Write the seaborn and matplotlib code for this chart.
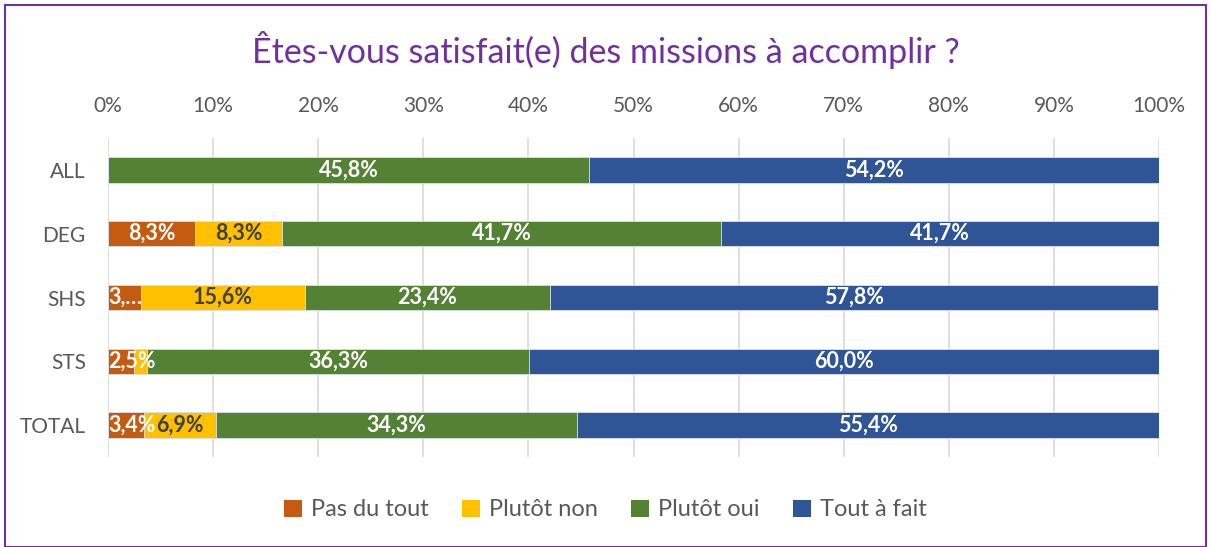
import numpy as np
import pandas as pd
import matplotlib.pyplot as plt
import seaborn as sns
from matplotlib.patches import Rectangle, Patch

categories = ["ALL", "DEG", "SHS", "STS", "TOTAL"]
series_names = ["Pas du tout", "Plutôt non", "Plutôt oui", "Tout à fait"]
pas_du_tout = [0.0, 8.3, 3.1, 2.5, 3.4]
plutot_non = [0.0, 8.3, 15.6, 1.25, 6.9]
plutot_oui = [45.8, 41.7, 23.4, 36.3, 34.3]
tout_a_fait = [54.2, 41.7, 57.8, 60.0, 55.4]
tick_labels = ["0%", "10%", "20%", "30%", "40%", "50%", "60%", "70%", "80%", "90%", "100%"]

colors = ["#C55A11", "#FFC000", "#548235", "#2F5597"]
label_colors = ["white", "#404040", "white", "white"]

df = pd.DataFrame({"cat": categories, series_names[0]: pas_du_tout, series_names[1]: plutot_non,
                   series_names[2]: plutot_oui, series_names[3]: tout_a_fait})
vals = df[series_names].to_numpy()
cum = np.cumsum(vals, axis=1)

sns.set_style("white")
plt.rcParams["font.family"] = ["Lato", "DejaVu Sans"]

fig = plt.figure(figsize=(12.11, 5.47), dpi=100)
ax = fig.add_axes([108 / 1211, 1 - 457 / 547, 1051 / 1211, 319 / 547])

# stacked bars: draw cumulative totals from the top layer down
for j in range(3, -1, -1):
    sns.barplot(x=cum[:, j], y=df["cat"], orient="h", color=colors[j], width=0.4,
                saturation=1, edgecolor="#DCE3EF", linewidth=0.6, ax=ax, zorder=3)

# data labels
for i, cat in enumerate(categories):
    left = 0
    for j in range(4):
        v = vals[i, j]
        if v >= 2:
            txt = f"{v:.1f}%".replace(".", ",")
            if cat == "SHS" and j == 0:
                txt = "3,…"
            if j == 0 and v < 5:
                # narrow first segment: Excel keeps the label inside the plot
                ax.text(0.05, i, txt, ha="left", va="center", color=label_colors[j],
                        fontsize=15.5, fontweight="bold", zorder=5)
            else:
                ax.text(left + v / 2, i, txt, ha="center", va="center", color=label_colors[j],
                        fontsize=15.5, fontweight="bold", zorder=5)
        left += v

ax.set_xlim(0, 100)
ax.set_ylim(4.5, -0.5)
ax.set_xticks(np.arange(0, 101, 10))
ax.set_xticklabels(tick_labels)
ax.xaxis.tick_top()
ax.tick_params(axis="x", length=0, pad=16, labelsize=15, labelcolor="#595959")
ax.tick_params(axis="y", length=0, pad=16, labelsize=15, labelcolor="#595959")
ax.set_xlabel("")
ax.set_ylabel("")
ax.grid(axis="x", color="#D9D9D9", linewidth=1.2, zorder=0)
ax.set_axisbelow(True)
for s in ax.spines.values():
    s.set_visible(False)

fig.text(0.5, 1 - 50 / 547, "Êtes-vous satisfait(e) des missions à accomplir ?", ha="center",
         va="center", fontsize=24.5, color="#7030A0")

handles = [Patch(facecolor=c, edgecolor="none") for c in colors]
fig.legend(handles, series_names, loc="center", bbox_to_anchor=(0.5, 1 - 510 / 547), ncol=4,
           frameon=False, fontsize=17, handlelength=0.75, handleheight=0.75, handletextpad=0.4,
           columnspacing=1.4, labelcolor="#595959")

fig.patches.append(Rectangle((5 / 1211, 0), 1 - 10 / 1211, 1 - 5 / 547, transform=fig.transFigure,
                             fill=False, edgecolor="#7030A0", linewidth=1.5))

fig.savefig("out.png", dpi=100)
